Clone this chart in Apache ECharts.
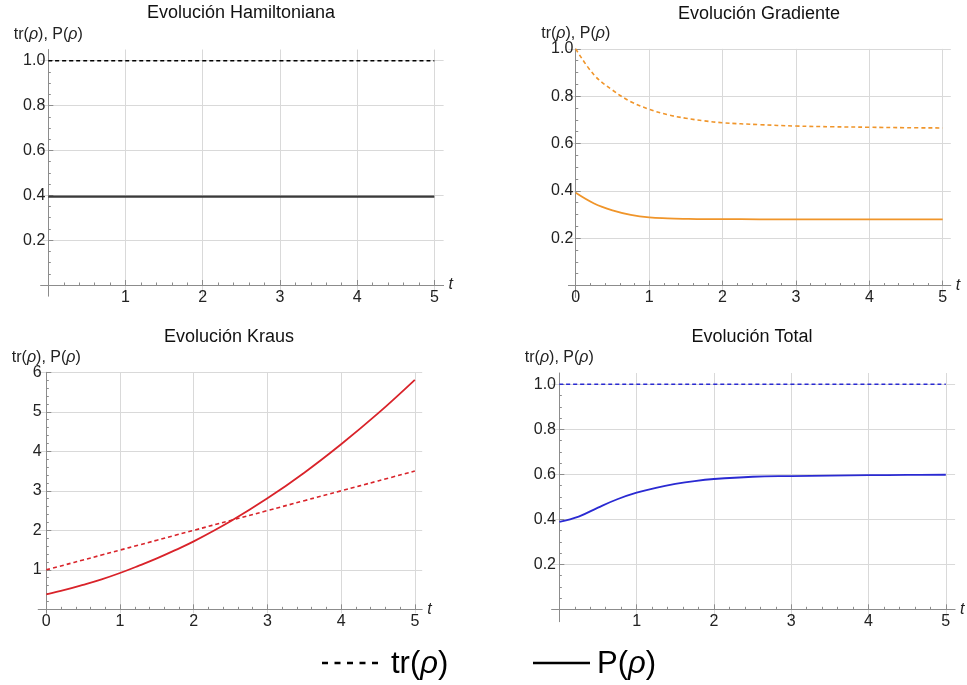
<!DOCTYPE html>
<html>
<head>
<meta charset="utf-8">
<script src="https://cdn.jsdelivr.net/npm/echarts@6/dist/echarts.min.js"></script>
<style>
html, body { margin: 0; padding: 0; background: #fff; }
#main { width: 967px; height: 685px; }
</style>
</head>
<body>
<div id="main"></div>
<script>
// sample times
var tSteps = [0, 0.25, 0.5, 0.75, 1, 1.25, 1.5, 1.75, 2, 2.5, 3, 3.5, 4, 4.5, 5];
var tEnds = [0, 5];

// Hamiltoniana
var hamTrace = [1, 1];
var hamPurity = [0.394, 0.394];
// Gradiente
var gradTrace = [1.0, 0.89, 0.826, 0.777, 0.745, 0.722, 0.707, 0.696, 0.688, 0.680, 0.674, 0.671, 0.669, 0.667, 0.666];
var gradPurity = [0.392, 0.347, 0.318, 0.299, 0.288, 0.284, 0.282, 0.281, 0.281, 0.280, 0.280, 0.280, 0.280, 0.280, 0.280];
// Kraus
var krausTrace = [1, 1.125, 1.25, 1.375, 1.5, 1.625, 1.75, 1.875, 2, 2.25, 2.5, 2.75, 3, 3.25, 3.5];
var krausPurity = [0.38, 0.49, 0.62, 0.76, 0.92, 1.10, 1.29, 1.50, 1.72, 2.23, 2.81, 3.46, 4.18, 4.96, 5.81];
// Total
var totalTrace = [1, 1];
var totalPurity = [0.389, 0.412, 0.452, 0.489, 0.518, 0.540, 0.557, 0.570, 0.579, 0.589, 0.592, 0.594, 0.596, 0.597, 0.598];

var titles = ['Evolución Hamiltoniana', 'Evolución Gradiente', 'Evolución Kraus', 'Evolución Total'];
var xLabelsNoZero = [1, 2, 3, 4, 5];
var xLabelsZero = [0, 1, 2, 3, 4, 5];
var yLabelsFrac = [0.2, 0.4, 0.6, 0.8, 1.0];
var yLabelsKraus = [1, 2, 3, 4, 5, 6];

var FONT = 'Liberation Sans, Arial, sans-serif';

function zip(ts, vs) {
	var out = [];
	for (var i = 0; i < ts.length; i++) out.push([ts[i], vs[i]]);
	return out;
}

// minor tick positions between the major ones
function minorTicks(to, step, major) {
	var out = [];
	for (var k = 1; k * step < to + 1e-9; k++) {
		var v = Math.round(k * step * 1000) / 1000;
		var r = v / major;
		if (Math.abs(r - Math.round(r)) > 1e-6) out.push(v);
	}
	return out;
}

// labels are placed from the grid edge, not the axis line, so margins are tuned per panel
var panels = [{
		grid: { left: 40.6, top: 49.5, width: 403, height: 246.7 },
		x: [-0.1, 5.12], y: [-0.05, 1.05], xMargin: -7, yMargin: -4.7,
		xLabels: xLabelsNoZero, yLabels: yLabelsFrac, yMinor: minorTicks(1.0, 0.05, 0.2), yFixed: 1,
		title: [241, 4], color: '#000', solidColor: '#3a3a3a',
		trace: zip(tEnds, hamTrace), purity: zip(tEnds, hamPurity)
	},
	{
		grid: { left: 568.4, top: 48.9, width: 382.4, height: 248.5 },
		x: [-0.1, 5.11], y: [-0.05, 1.0], xMargin: -7.8, yMargin: -4.9,
		xLabels: xLabelsZero, yLabels: yLabelsFrac, yMinor: minorTicks(1.0, 0.05, 0.2), yFixed: 1,
		title: [759, 5], color: '#f0952a', solidColor: '#f0952a',
		trace: zip(tSteps, gradTrace), purity: zip(tSteps, gradPurity)
	},
	{
		grid: { left: 38.2, top: 372.3, width: 384, height: 241 },
		x: [-0.11, 5.1], y: [-0.1, 6], xMargin: 0, yMargin: -3.5,
		xLabels: xLabelsZero, yLabels: yLabelsKraus, yMinor: minorTicks(6, 0.2, 1), yFixed: 0,
		title: [229, 328], color: '#d9232a', solidColor: '#d9232a',
		trace: zip(tSteps, krausTrace), purity: zip(tSteps, krausPurity)
	},
	{
		grid: { left: 551.6, top: 373, width: 403.5, height: 248.7 },
		x: [-0.1, 5.12], y: [-0.055, 1.05], xMargin: -8.4, yMargin: -4.4,
		xLabels: xLabelsNoZero, yLabels: yLabelsFrac, yMinor: minorTicks(1.0, 0.05, 0.2), yFixed: 1,
		title: [752, 328], color: '#2a2ad2', solidColor: '#2a2ad2',
		trace: zip(tEnds, totalTrace), purity: zip(tSteps, totalPurity)
	}
];

var xMinor = minorTicks(5, 0.2, 1);
var axisGray = '#8c8c8c';

var option = {
	backgroundColor: '#fff',
	animation: false,
	title: [],
	grid: [],
	xAxis: [],
	yAxis: [],
	series: [],
	graphic: [
		{ type: 'line', shape: { x1: 322, y1: 663, x2: 378, y2: 663 }, style: { stroke: '#000', lineWidth: 2.3, lineDash: [6, 6.5] } },
		{ type: 'text', style: { x: 391, y: 664, text: 'tr({r|ρ})', verticalAlign: 'middle', fill: '#000', font: '31px ' + FONT,
			rich: { r: { fontStyle: 'italic', fontSize: 31, fontFamily: FONT, fill: '#000' } } } },
		{ type: 'line', shape: { x1: 533, y1: 663, x2: 590, y2: 663 }, style: { stroke: '#000', lineWidth: 2.5 } },
		{ type: 'text', style: { x: 597, y: 664, text: 'P({r|ρ})', verticalAlign: 'middle', fill: '#000', font: '31px ' + FONT,
			rich: { r: { fontStyle: 'italic', fontSize: 31, fontFamily: FONT, fill: '#000' } } } }
	]
};

panels.forEach(function(p, i) {
	var g = p.grid;
	option.grid.push({ left: g.left, top: g.top, width: g.width, height: g.height, outerBoundsMode: 'none', containLabel: false });
	option.title.push({
		text: titles[i], left: p.title[0], top: p.title[1], textAlign: 'center', padding: 0,
		textStyle: { fontFamily: FONT, fontSize: 18, fontWeight: 'normal', color: '#111' }
	});

	var xi = i * 2, yi = i * 2;
	// main x axis
	option.xAxis.push({
		type: 'value', gridIndex: i, min: p.x[0], max: p.x[1], position: 'bottom',
		name: 't', nameLocation: 'end', nameGap: 5,
		nameTextStyle: { fontFamily: FONT, fontSize: 16, fontStyle: 'italic', color: '#222' },
		axisLine: { show: true, onZero: true, onZeroAxisIndex: yi, lineStyle: { color: axisGray, width: 1 } },
		axisTick: { show: true, inside: true, length: 5, customValues: p.xLabels, lineStyle: { color: axisGray } },
		axisLabel: { show: true, customValues: p.xLabels, margin: p.xMargin, fontFamily: FONT, fontSize: 16, color: '#222' },
		splitLine: { show: true, lineStyle: { color: '#d9d9d9', width: 1 } }
	});
	// minor ticks on x
	option.xAxis.push({
		type: 'value', gridIndex: i, min: p.x[0], max: p.x[1], position: 'bottom',
		axisLine: { show: false, onZero: true, onZeroAxisIndex: yi },
		axisTick: { show: true, inside: true, length: 2.5, customValues: xMinor, lineStyle: { color: axisGray } },
		axisLabel: { show: false },
		splitLine: { show: false }
	});
	// main y axis
	option.yAxis.push({
		type: 'value', gridIndex: i, min: p.y[0], max: p.y[1], position: 'left',
		name: 'tr({r|ρ}), P({r|ρ})', nameLocation: 'end', nameGap: 7, nameMoveOverlap: false,
		nameTextStyle: { fontFamily: FONT, fontSize: 16, color: '#222', align: 'center',
			rich: { r: { fontFamily: FONT, fontSize: 16, fontStyle: 'italic', color: '#222' } } },
		axisLine: { show: true, onZero: true, onZeroAxisIndex: xi, lineStyle: { color: axisGray, width: 1 } },
		axisTick: { show: true, inside: true, length: 5, customValues: p.yLabels, lineStyle: { color: axisGray } },
		axisLabel: {
			show: true, customValues: p.yLabels, margin: p.yMargin, fontFamily: FONT, fontSize: 16, color: '#222',
			formatter: (function(d) { return function(v) { return Number(v).toFixed(d); }; })(p.yFixed)
		},
		splitLine: { show: true, lineStyle: { color: '#d9d9d9', width: 1 } }
	});
	// minor ticks on y
	option.yAxis.push({
		type: 'value', gridIndex: i, min: p.y[0], max: p.y[1], position: 'left',
		axisLine: { show: false, onZero: true, onZeroAxisIndex: xi },
		axisTick: { show: true, inside: true, length: 2.5, customValues: p.yMinor, lineStyle: { color: axisGray } },
		axisLabel: { show: false },
		splitLine: { show: false }
	});

	option.series.push({
		name: 'tr', type: 'line', xAxisIndex: xi, yAxisIndex: yi, data: p.trace,
		showSymbol: false, smooth: 0.4, silent: true,
		lineStyle: { color: p.color, width: 1.6, type: [4, 3] }
	});
	option.series.push({
		name: 'P', type: 'line', xAxisIndex: xi, yAxisIndex: yi, data: p.purity,
		showSymbol: false, smooth: 0.4, silent: true,
		lineStyle: { color: p.solidColor, width: i === 0 ? 2.2 : 1.8 }
	});
});

var myChart = echarts.init(document.getElementById('main'));
myChart.setOption(option);
</script>
</body>
</html>
